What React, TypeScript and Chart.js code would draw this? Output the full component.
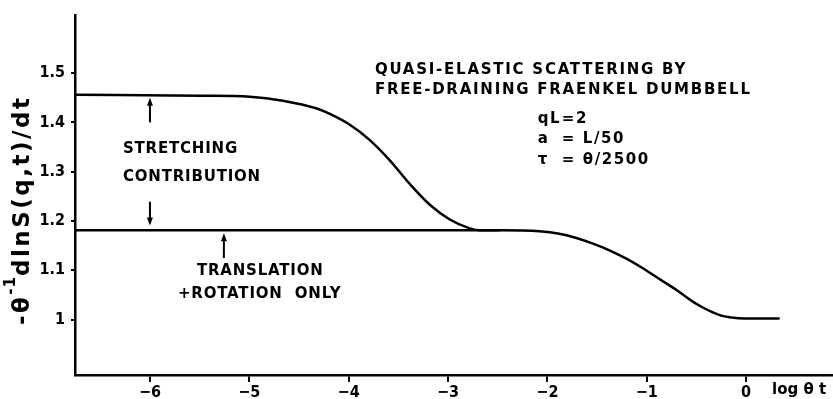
import React, { useEffect, useRef } from 'react';
import { Chart, registerables } from 'chart.js';

Chart.register(...registerables);

// ---- data ----
const xTicks = [-6, -5, -4, -3, -2, -1, 0];
const yTicks = [1, 1.1, 1.2, 1.3, 1.4, 1.5];

// curve with stretching contribution (upper plateau)
const upperX = [-6.755, -5.497, -4.994, -4.662, -4.320, -4.189, -3.988, -3.787, -3.586, -3.384, -3.183, -2.982, -2.781, -2.680, -2.479];
const upperY = [1.456, 1.454, 1.452, 1.444, 1.428, 1.417, 1.395, 1.364, 1.323, 1.275, 1.233, 1.203, 1.185, 1.181, 1.181];

// translation + rotation only (lower plateau)
const lowerX = [-6.755, -2.48, -2.08, -1.88, -1.70, -1.54, -1.37, -1.20, -1.03, -0.87, -0.70, -0.54, -0.44, -0.34, -0.25, -0.15, -0.01, 0.338];
const lowerY = [1.181, 1.181, 1.179, 1.174, 1.165, 1.154, 1.140, 1.123, 1.103, 1.082, 1.060, 1.037, 1.025, 1.015, 1.008, 1.004, 1.002, 1.002];

// annotation anchors in data units
const headTexts = ['QUASI-ELASTIC SCATTERING BY', 'FREE-DRAINING FRAENKEL DUMBBELL'];
const headX = [-3.736, -3.736];
const headY = [1.506, 1.466];

const noteTexts = ['STRETCHING', 'CONTRIBUTION', 'TRANSLATION', '+ROTATION  ONLY'];
const noteX = [-6.272, -6.272, -5.527, -5.718];
const noteY = [1.345, 1.289, 1.098, 1.052];

const paramLhs = ['qL', 'a', 'τ'];
const paramRhs = ['=2', '= L/50', '= θ/2500'];
const paramX = [-2.097, -1.855];
const paramY = [1.406, 1.366, 1.323];

// arrows: x, tail y, tip y
const arrowX = [-6, -6, -5.256];
const arrowTail = [1.400, 1.239, 1.125];
const arrowTip = [1.450, 1.191, 1.175];

const FONT = '"DejaVu Sans"';

const toPts = (xs: number[], ys: number[]) => xs.map((x, i) => ({ x, y: ys[i] }));

const annotationPlugin = {
  id: 'notes',
  afterDraw(chart: any) {
    const { ctx, scales, chartArea } = chart;
    const sx = scales.x;
    const sy = scales.y;
    ctx.save();
    ctx.fillStyle = '#000';
    ctx.strokeStyle = '#000';
    ctx.textBaseline = 'middle';
    ctx.textAlign = 'left';
    ctx.font = `bold 15px ${FONT}`;
    ctx.letterSpacing = '1.75px';
    headTexts.forEach((t, i) => {
      ctx.fillText(t, sx.getPixelForValue(headX[i]), sy.getPixelForValue(headY[i]));
    });
    ctx.letterSpacing = '1.6px';
    paramLhs.forEach((t, i) => {
      const py = sy.getPixelForValue(paramY[i]);
      ctx.fillText(t, sx.getPixelForValue(paramX[0]), py);
      ctx.fillText(paramRhs[i], sx.getPixelForValue(paramX[1]), py);
    });
    ctx.letterSpacing = '0.8px';
    noteTexts.forEach((t, i) => {
      ctx.fillText(t, sx.getPixelForValue(noteX[i]), sy.getPixelForValue(noteY[i]));
    });
    ctx.letterSpacing = '0px';
    // arrows
    ctx.lineWidth = 2;
    arrowX.forEach((ax, i) => {
      const px = sx.getPixelForValue(ax);
      const pt = sy.getPixelForValue(arrowTail[i]);
      const pp = sy.getPixelForValue(arrowTip[i]);
      const dir = pp < pt ? -1 : 1;
      ctx.beginPath();
      ctx.moveTo(px, pt);
      ctx.lineTo(px, pp - dir * 5);
      ctx.stroke();
      ctx.beginPath();
      ctx.moveTo(px, pp);
      ctx.lineTo(px - 3, pp - dir * 8);
      ctx.lineTo(px + 3, pp - dir * 8);
      ctx.closePath();
      ctx.fill();
    });
    // x-axis label at right end
    ctx.font = `bold 15px ${FONT}`;
    ctx.textBaseline = 'middle';
    ctx.textAlign = 'left';
    ctx.fillText('log θ t', sx.getPixelForValue(0) + 26, chartArea.bottom + 15);
    // y-axis title with superscript
    const cy = (chartArea.top + chartArea.bottom) / 2 + 15;
    ctx.translate(23, cy);
    ctx.rotate(-Math.PI / 2);
    const parts = [
      { t: '-θ', f: `bold 23px ${FONT}`, dy: 0, ls: '2.5px' },
      { t: '-1', f: `bold 15px ${FONT}`, dy: -12, ls: '1px' },
      { t: 'dlnS(q,t)/dt', f: `bold 23px ${FONT}`, dy: 0, ls: '2.5px' },
    ];
    let total = 0;
    parts.forEach((p) => {
      ctx.font = p.f;
      ctx.letterSpacing = p.ls;
      total += ctx.measureText(p.t).width;
    });
    let x0 = -total / 2;
    ctx.textAlign = 'left';
    parts.forEach((p) => {
      ctx.font = p.f;
      ctx.letterSpacing = p.ls;
      ctx.fillText(p.t, x0, p.dy);
      x0 += ctx.measureText(p.t).width;
    });
    ctx.restore();
  },
};

export default function App() {
  const ref = useRef<HTMLCanvasElement>(null);
  useEffect(() => {
    if (!ref.current) return;
    const tickFont = { family: '"DejaVu Sans Condensed", "DejaVu Sans"', size: 16, weight: 'bold' as const };
    const chart = new Chart(ref.current, {
      type: 'line',
      data: {
        datasets: [
          {
            data: toPts(upperX, upperY),
            borderColor: '#000',
            borderWidth: 2.5,
            pointRadius: 0,
            cubicInterpolationMode: 'monotone',
            fill: false,
          },
          {
            data: toPts(lowerX, lowerY),
            borderColor: '#000',
            borderWidth: 2.5,
            pointRadius: 0,
            cubicInterpolationMode: 'monotone',
            fill: false,
          },
        ],
      },
      options: {
        responsive: false,
        animation: false,
        layout: { padding: { top: 12, right: 0, left: 0, bottom: 0 } },
        plugins: { legend: { display: false }, tooltip: { enabled: false } },
        scales: {
          x: {
            type: 'linear',
            min: -6.7545,
            max: 0.875,
            afterBuildTicks: (s: any) => {
              s.ticks = xTicks.map((v) => ({ value: v }));
            },
            afterFit: (s: any) => {
              s.height = 24;
            },
            ticks: {
              color: '#000',
              font: tickFont,
              padding: 1,
              maxRotation: 0,
              autoSkip: false,
              callback: (v: any) => (Number(v) < 0 ? '−' + Math.abs(Number(v)) : String(v)),
            },
            grid: { drawOnChartArea: false, drawTicks: true, tickLength: 7, color: '#000', lineWidth: 2 },
            border: { color: '#000', width: 2.5 },
          },
          y: {
            type: 'linear',
            min: 0.8876,
            max: 1.6165,
            afterBuildTicks: (s: any) => {
              s.ticks = yTicks.map((v) => ({ value: v }));
            },
            afterFit: (s: any) => {
              s.width = 75;
            },
            ticks: {
              color: '#000',
              font: tickFont,
              padding: 6,
              autoSkip: false,
              callback: (v: any) => (Number(v) === 1 ? '1' : Number(v).toFixed(1)),
            },
            grid: { drawOnChartArea: false, drawTicks: true, tickLength: 4, color: '#000', lineWidth: 2 },
            border: { color: '#000', width: 2.5 },
          },
        },
      },
      plugins: [annotationPlugin],
    });
    return () => chart.destroy();
  }, []);
  return (
    <div style={{ position: 'absolute', left: 0, top: 0, width: 833, height: 399 }}>
      <canvas ref={ref} width={833} height={399} style={{ display: 'block' }} />
    </div>
  );
}
